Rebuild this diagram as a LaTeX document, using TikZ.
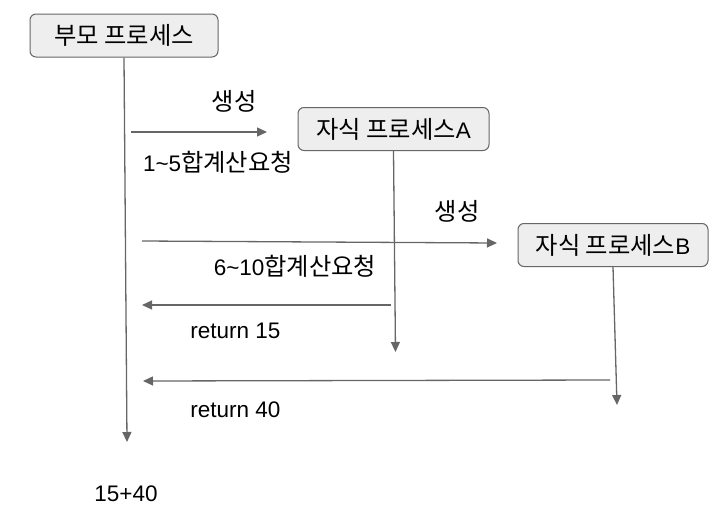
\documentclass[tikz,border=0pt]{standalone}
\usepackage{fontspec}
\setmainfont{Liberation Sans}
\newfontfamily\kr[Scale=1.08]{Noto Sans CJK KR}
\usepackage{tikz}
\usetikzlibrary{positioning,arrows.meta}
\definecolor{ln}{HTML}{666666}
\definecolor{bx}{HTML}{EEEEEE}

\begin{document}
\begin{tikzpicture}[
  x=1pt, y=-1pt,
  font=\fontsize{22.5}{27}\selectfont,
  proc/.style={rectangle,draw=ln,line width=1pt,rounded corners=6pt,fill=bx,minimum width=190pt,minimum height=43pt,inner sep=0pt},
  lbl/.style={inner sep=0pt},
  link/.style={draw=ln,line width=1.3pt,-{Triangle[length=10pt,width=9pt]}},
  >=Triangle
]
\useasboundingbox (0,0) rectangle (726,517);

% processes
\node[proc,minimum width=188pt] (parent) at (124,35.5) {\kr 부모 프로세스};
\node[proc,minimum width=191pt] (procA) at (393.5,129) {{\kr 자식 프로세스}A};
\node[proc] (procB) at (613,245) {{\kr 자식 프로세스}B};

% lifeline ends
\coordinate (parent-end) at (127,442);
\coordinate (procA-end) at (395.5,352);
\coordinate (procB-end) at (617,405);

% message ends
\coordinate (spawnA-s) at (131,132);
\coordinate (spawnA-e) at (267,132);
\coordinate (spawnB-s) at (142,241);
\coordinate (spawnB-e) at (497,243);
\coordinate (retA-s) at (391,305);
\coordinate (retA-e) at (142,305);
\coordinate (retB-s) at (610,380);
\coordinate (retB-e) at (143,381);

% labels
\node[lbl] (spawnA-top) at (234,101) {\kr 생성};
\node[lbl] (spawnA-bot) at (218,162) {1\char`~5{\kr 합계산요청}};
\node[lbl] (spawnB-top) at (457,211) {\kr 생성};
\node[lbl] (spawnB-bot) at (295,266) {6\char`~10{\kr 합계산요청}};
\node[lbl] (retA-lbl) at (235.5,331) {return 15};
\node[lbl] (retB-lbl) at (235.5,410) {return 40};
\node[lbl] (sum) at (126,494) {15+40};

\draw[link] (parent.south) -- (parent-end);
\draw[link] (procA.south) -- (procA-end);
\draw[link] (procB.south) -- (procB-end);
\draw[link] (spawnA-s) -- (spawnA-e);
\draw[link] (spawnB-s) -- (spawnB-e);
\draw[link] (retA-s) -- (retA-e);
\draw[link] (retB-s) -- (retB-e);
\end{tikzpicture}
\end{document}
